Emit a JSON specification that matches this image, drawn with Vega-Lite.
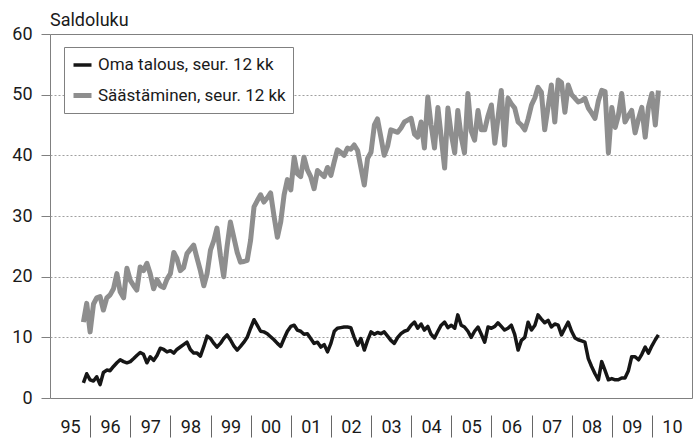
{
 "$schema": "https://vega.github.io/schema/vega-lite/v6.json",
 "width": 642,
 "height": 364,
 "autosize": {"type": "none"},
 "padding": {"left": 50, "top": 34, "right": 6, "bottom": 42},
 "background": "white",
 "config": {
  "font": "Roboto, Liberation Sans, sans-serif",
  "view": {"stroke": "#808080", "strokeWidth": 1}
 },
 "title": {"text": "Saldoluku", "anchor": "start", "frame": "group", "offset": -5, "fontSize": 18, "fontWeight": "normal", "color": "#1a1a1a"},
 "data": {"values": [
  {"t":"1995-11-01","Oma talous":2.5,"Säästäminen":12.5},
  {"t":"1995-12-01","Oma talous":4.0,"Säästäminen":15.6},
  {"t":"1996-01-01","Oma talous":3.0,"Säästäminen":10.9},
  {"t":"1996-02-01","Oma talous":2.8,"Säästäminen":15.5},
  {"t":"1996-03-01","Oma talous":3.5,"Säästäminen":16.5},
  {"t":"1996-04-01","Oma talous":2.2,"Säästäminen":16.7},
  {"t":"1996-05-01","Oma talous":4.2,"Säästäminen":14.5},
  {"t":"1996-06-01","Oma talous":4.6,"Säästäminen":16.5},
  {"t":"1996-07-01","Oma talous":4.5,"Säästäminen":17.0},
  {"t":"1996-08-01","Oma talous":5.2,"Säästäminen":18.0},
  {"t":"1996-09-01","Oma talous":5.8,"Säästäminen":20.5},
  {"t":"1996-10-01","Oma talous":6.3,"Säästäminen":17.5},
  {"t":"1996-11-01","Oma talous":6.0,"Säästäminen":16.5},
  {"t":"1996-12-01","Oma talous":5.8,"Säästäminen":21.4},
  {"t":"1997-01-01","Oma talous":6.0,"Säästäminen":19.4},
  {"t":"1997-02-01","Oma talous":6.5,"Säästäminen":18.5},
  {"t":"1997-03-01","Oma talous":7.0,"Säästäminen":17.8},
  {"t":"1997-04-01","Oma talous":7.5,"Säästäminen":21.6},
  {"t":"1997-05-01","Oma talous":7.2,"Säästäminen":21.0},
  {"t":"1997-06-01","Oma talous":5.8,"Säästäminen":22.2},
  {"t":"1997-07-01","Oma talous":6.8,"Säästäminen":20.5},
  {"t":"1997-08-01","Oma talous":6.2,"Säästäminen":18.0},
  {"t":"1997-09-01","Oma talous":7.0,"Säästäminen":19.5},
  {"t":"1997-10-01","Oma talous":8.2,"Säästäminen":18.5},
  {"t":"1997-11-01","Oma talous":8.0,"Säästäminen":18.2},
  {"t":"1997-12-01","Oma talous":7.6,"Säästäminen":19.6},
  {"t":"1998-01-01","Oma talous":7.8,"Säästäminen":20.5},
  {"t":"1998-02-01","Oma talous":7.4,"Säästäminen":24.0},
  {"t":"1998-03-01","Oma talous":8.0,"Säästäminen":23.0},
  {"t":"1998-04-01","Oma talous":8.4,"Säästäminen":21.0},
  {"t":"1998-05-01","Oma talous":8.8,"Säästäminen":21.5},
  {"t":"1998-06-01","Oma talous":9.2,"Säästäminen":23.8},
  {"t":"1998-07-01","Oma talous":8.0,"Säästäminen":24.5},
  {"t":"1998-08-01","Oma talous":7.4,"Säästäminen":25.2},
  {"t":"1998-09-01","Oma talous":7.4,"Säästäminen":23.0},
  {"t":"1998-10-01","Oma talous":6.9,"Säästäminen":21.0},
  {"t":"1998-11-01","Oma talous":8.5,"Säästäminen":18.5},
  {"t":"1998-12-01","Oma talous":10.2,"Säästäminen":20.5},
  {"t":"1999-01-01","Oma talous":9.8,"Säästäminen":24.4},
  {"t":"1999-02-01","Oma talous":9.0,"Säästäminen":26.0},
  {"t":"1999-03-01","Oma talous":8.4,"Säästäminen":28.0},
  {"t":"1999-04-01","Oma talous":9.0,"Säästäminen":23.5},
  {"t":"1999-05-01","Oma talous":9.8,"Säästäminen":20.0},
  {"t":"1999-06-01","Oma talous":10.4,"Säästäminen":25.0},
  {"t":"1999-07-01","Oma talous":9.6,"Säästäminen":29.0},
  {"t":"1999-08-01","Oma talous":8.6,"Säästäminen":26.5},
  {"t":"1999-09-01","Oma talous":7.9,"Säästäminen":24.0},
  {"t":"1999-10-01","Oma talous":8.5,"Säästäminen":22.4},
  {"t":"1999-11-01","Oma talous":9.2,"Säästäminen":22.5},
  {"t":"1999-12-01","Oma talous":10.0,"Säästäminen":22.7},
  {"t":"2000-01-01","Oma talous":11.5,"Säästäminen":26.0},
  {"t":"2000-02-01","Oma talous":12.9,"Säästäminen":31.5},
  {"t":"2000-03-01","Oma talous":12.0,"Säästäminen":32.5},
  {"t":"2000-04-01","Oma talous":11.0,"Säästäminen":33.5},
  {"t":"2000-05-01","Oma talous":10.9,"Säästäminen":32.3},
  {"t":"2000-06-01","Oma talous":10.6,"Säästäminen":33.0},
  {"t":"2000-07-01","Oma talous":10.1,"Säästäminen":33.8},
  {"t":"2000-08-01","Oma talous":9.6,"Säästäminen":30.0},
  {"t":"2000-09-01","Oma talous":9.0,"Säästäminen":26.5},
  {"t":"2000-10-01","Oma talous":8.5,"Säästäminen":29.0},
  {"t":"2000-11-01","Oma talous":9.8,"Säästäminen":33.5},
  {"t":"2000-12-01","Oma talous":11.0,"Säästäminen":36.0},
  {"t":"2001-01-01","Oma talous":11.8,"Säästäminen":34.3},
  {"t":"2001-02-01","Oma talous":12.0,"Säästäminen":39.7},
  {"t":"2001-03-01","Oma talous":11.2,"Säästäminen":37.0},
  {"t":"2001-04-01","Oma talous":11.0,"Säästäminen":36.5},
  {"t":"2001-05-01","Oma talous":10.5,"Säästäminen":39.7},
  {"t":"2001-06-01","Oma talous":10.6,"Säästäminen":37.6},
  {"t":"2001-07-01","Oma talous":9.8,"Säästäminen":36.5},
  {"t":"2001-08-01","Oma talous":9.0,"Säästäminen":34.5},
  {"t":"2001-09-01","Oma talous":9.2,"Säästäminen":37.5},
  {"t":"2001-10-01","Oma talous":8.4,"Säästäminen":37.0},
  {"t":"2001-11-01","Oma talous":8.8,"Säästäminen":36.5},
  {"t":"2001-12-01","Oma talous":7.6,"Säästäminen":38.0},
  {"t":"2002-01-01","Oma talous":9.0,"Säästäminen":36.7},
  {"t":"2002-02-01","Oma talous":11.0,"Säästäminen":39.0},
  {"t":"2002-03-01","Oma talous":11.5,"Säästäminen":40.9},
  {"t":"2002-04-01","Oma talous":11.6,"Säästäminen":40.5},
  {"t":"2002-05-01","Oma talous":11.7,"Säästäminen":40.0},
  {"t":"2002-06-01","Oma talous":11.7,"Säästäminen":41.2},
  {"t":"2002-07-01","Oma talous":11.6,"Säästäminen":41.0},
  {"t":"2002-08-01","Oma talous":10.0,"Säästäminen":41.7},
  {"t":"2002-09-01","Oma talous":8.7,"Säästäminen":40.8},
  {"t":"2002-10-01","Oma talous":9.8,"Säästäminen":38.0},
  {"t":"2002-11-01","Oma talous":7.9,"Säästäminen":35.1},
  {"t":"2002-12-01","Oma talous":9.5,"Säästäminen":39.5},
  {"t":"2003-01-01","Oma talous":10.9,"Säästäminen":40.5},
  {"t":"2003-02-01","Oma talous":10.5,"Säästäminen":45.0},
  {"t":"2003-03-01","Oma talous":10.8,"Säästäminen":46.0},
  {"t":"2003-04-01","Oma talous":10.6,"Säästäminen":43.0},
  {"t":"2003-05-01","Oma talous":10.9,"Säästäminen":40.0},
  {"t":"2003-06-01","Oma talous":10.2,"Säästäminen":41.5},
  {"t":"2003-07-01","Oma talous":9.5,"Säästäminen":44.2},
  {"t":"2003-08-01","Oma talous":9.0,"Säästäminen":44.0},
  {"t":"2003-09-01","Oma talous":10.0,"Säästäminen":43.8},
  {"t":"2003-10-01","Oma talous":10.6,"Säästäminen":44.5},
  {"t":"2003-11-01","Oma talous":11.0,"Säästäminen":45.5},
  {"t":"2003-12-01","Oma talous":11.2,"Säästäminen":45.8},
  {"t":"2004-01-01","Oma talous":12.0,"Säästäminen":46.1},
  {"t":"2004-02-01","Oma talous":12.5,"Säästäminen":43.5},
  {"t":"2004-03-01","Oma talous":11.5,"Säästäminen":43.0},
  {"t":"2004-04-01","Oma talous":12.2,"Säästäminen":45.5},
  {"t":"2004-05-01","Oma talous":11.2,"Säästäminen":41.2},
  {"t":"2004-06-01","Oma talous":11.8,"Säästäminen":49.6},
  {"t":"2004-07-01","Oma talous":10.5,"Säästäminen":45.0},
  {"t":"2004-08-01","Oma talous":9.9,"Säästäminen":41.2},
  {"t":"2004-09-01","Oma talous":11.0,"Säästäminen":47.9},
  {"t":"2004-10-01","Oma talous":12.0,"Säästäminen":43.0},
  {"t":"2004-11-01","Oma talous":12.5,"Säästäminen":37.9},
  {"t":"2004-12-01","Oma talous":11.6,"Säästäminen":47.8},
  {"t":"2005-01-01","Oma talous":12.0,"Säästäminen":43.5},
  {"t":"2005-02-01","Oma talous":11.5,"Säästäminen":40.4},
  {"t":"2005-03-01","Oma talous":13.7,"Säästäminen":47.4},
  {"t":"2005-04-01","Oma talous":12.0,"Säästäminen":43.0},
  {"t":"2005-05-01","Oma talous":11.7,"Säästäminen":40.4},
  {"t":"2005-06-01","Oma talous":11.0,"Säästäminen":50.2},
  {"t":"2005-07-01","Oma talous":10.0,"Säästäminen":44.0},
  {"t":"2005-08-01","Oma talous":11.0,"Säästäminen":42.5},
  {"t":"2005-09-01","Oma talous":11.7,"Säästäminen":47.4},
  {"t":"2005-10-01","Oma talous":10.5,"Säästäminen":44.2},
  {"t":"2005-11-01","Oma talous":9.2,"Säästäminen":44.2},
  {"t":"2005-12-01","Oma talous":11.7,"Säästäminen":46.5},
  {"t":"2006-01-01","Oma talous":11.5,"Säästäminen":48.3},
  {"t":"2006-02-01","Oma talous":11.8,"Säästäminen":42.0},
  {"t":"2006-03-01","Oma talous":12.4,"Säästäminen":46.0},
  {"t":"2006-04-01","Oma talous":11.8,"Säästäminen":50.7},
  {"t":"2006-05-01","Oma talous":11.2,"Säästäminen":41.7},
  {"t":"2006-06-01","Oma talous":11.5,"Säästäminen":49.4},
  {"t":"2006-07-01","Oma talous":12.0,"Säästäminen":48.5},
  {"t":"2006-08-01","Oma talous":10.5,"Säästäminen":47.8},
  {"t":"2006-09-01","Oma talous":7.9,"Säästäminen":45.5},
  {"t":"2006-10-01","Oma talous":9.5,"Säästäminen":45.0},
  {"t":"2006-11-01","Oma talous":10.0,"Säästäminen":44.2},
  {"t":"2006-12-01","Oma talous":12.5,"Säästäminen":46.0},
  {"t":"2007-01-01","Oma talous":11.2,"Säästäminen":48.3},
  {"t":"2007-02-01","Oma talous":12.0,"Säästäminen":49.5},
  {"t":"2007-03-01","Oma talous":13.7,"Säästäminen":51.2},
  {"t":"2007-04-01","Oma talous":13.0,"Säästäminen":50.4},
  {"t":"2007-05-01","Oma talous":12.4,"Säästäminen":44.2},
  {"t":"2007-06-01","Oma talous":12.8,"Säästäminen":48.0},
  {"t":"2007-07-01","Oma talous":11.7,"Säästäminen":51.6},
  {"t":"2007-08-01","Oma talous":12.2,"Säästäminen":45.5},
  {"t":"2007-09-01","Oma talous":12.0,"Säästäminen":52.4},
  {"t":"2007-10-01","Oma talous":10.4,"Säästäminen":52.0},
  {"t":"2007-11-01","Oma talous":11.5,"Säästäminen":47.1},
  {"t":"2007-12-01","Oma talous":12.5,"Säästäminen":51.6},
  {"t":"2008-01-01","Oma talous":11.0,"Säästäminen":50.0},
  {"t":"2008-02-01","Oma talous":9.9,"Säästäminen":49.4},
  {"t":"2008-03-01","Oma talous":9.6,"Säästäminen":48.8},
  {"t":"2008-04-01","Oma talous":9.4,"Säästäminen":49.0},
  {"t":"2008-05-01","Oma talous":9.2,"Säästäminen":49.4},
  {"t":"2008-06-01","Oma talous":6.5,"Säästäminen":47.8},
  {"t":"2008-07-01","Oma talous":5.2,"Säästäminen":47.0},
  {"t":"2008-08-01","Oma talous":4.0,"Säästäminen":46.1},
  {"t":"2008-09-01","Oma talous":3.0,"Säästäminen":49.0},
  {"t":"2008-10-01","Oma talous":6.0,"Säästäminen":50.7},
  {"t":"2008-11-01","Oma talous":4.5,"Säästäminen":50.5},
  {"t":"2008-12-01","Oma talous":3.0,"Säästäminen":40.4},
  {"t":"2009-01-01","Oma talous":3.2,"Säästäminen":47.9},
  {"t":"2009-02-01","Oma talous":3.0,"Säästäminen":44.6},
  {"t":"2009-03-01","Oma talous":3.0,"Säästäminen":46.5},
  {"t":"2009-04-01","Oma talous":3.3,"Säästäminen":50.2},
  {"t":"2009-05-01","Oma talous":3.3,"Säästäminen":45.5},
  {"t":"2009-06-01","Oma talous":4.5,"Säästäminen":46.5},
  {"t":"2009-07-01","Oma talous":6.8,"Säästäminen":47.4},
  {"t":"2009-08-01","Oma talous":6.8,"Säästäminen":43.7},
  {"t":"2009-09-01","Oma talous":6.3,"Säästäminen":46.0},
  {"t":"2009-10-01","Oma talous":7.2,"Säästäminen":47.9},
  {"t":"2009-11-01","Oma talous":8.4,"Säästäminen":43.0},
  {"t":"2009-12-01","Oma talous":7.4,"Säästäminen":48.0},
  {"t":"2010-01-01","Oma talous":8.6,"Säästäminen":50.2},
  {"t":"2010-02-01","Oma talous":9.6,"Säästäminen":45.0},
  {"t":"2010-03-01","Oma talous":10.4,"Säästäminen":50.7}
 ]},
 "transform": [{"fold": ["Oma talous", "Säästäminen"], "as": ["sarja", "arvo"]}],
 "mark": {"type": "line", "strokeJoin": "round", "strokeCap": "butt"},
 "encoding": {
  "x": {
   "field": "t", "type": "temporal",
   "scale": {"domain": [{"year": 1995, "month": 1, "date": 1}, {"year": 2011, "month": 1, "date": 1}]},
   "axis": {
    "title": null,
    "values": [
     {"year": 1995, "month": 1, "date": 1}, {"year": 1996, "month": 1, "date": 1}, {"year": 1997, "month": 1, "date": 1},
     {"year": 1998, "month": 1, "date": 1}, {"year": 1999, "month": 1, "date": 1}, {"year": 2000, "month": 1, "date": 1},
     {"year": 2001, "month": 1, "date": 1}, {"year": 2002, "month": 1, "date": 1}, {"year": 2003, "month": 1, "date": 1},
     {"year": 2004, "month": 1, "date": 1}, {"year": 2005, "month": 1, "date": 1}, {"year": 2006, "month": 1, "date": 1},
     {"year": 2007, "month": 1, "date": 1}, {"year": 2008, "month": 1, "date": 1}, {"year": 2009, "month": 1, "date": 1},
     {"year": 2010, "month": 1, "date": 1}
    ],
    "format": "%y",
    "domain": false,
    "grid": false,
    "ticks": true,
    "tickSize": 22,
    "tickWidth": 1,
    "tickColor": "#666666",
    "tickOpacity": {"condition": {"test": "year(datum.value) == 1995", "value": 0}, "value": 1},
    "offset": 17,
    "labelOffset": 20,
    "labelPadding": -19,
    "labelFontSize": 18,
    "labelColor": "#1a1a1a",
    "labelFlush": false,
    "labelOverlap": false,
    "labelBound": false
   }
  },
  "y": {
   "field": "arvo", "type": "quantitative",
   "scale": {"domain": [0, 60]},
   "axis": {
    "title": null,
    "values": [0, 10, 20, 30, 40, 50, 60],
    "domain": false,
    "grid": true,
    "gridColor": "#a0a0a0",
    "gridDash": [2, 2],
    "gridWidth": 1,
    "gridOpacity": {"condition": {"test": "datum.value == 0 || datum.value == 60", "value": 0}, "value": 1},
    "ticks": true,
    "tickSize": 9,
    "tickColor": "#808080",
    "labelPadding": 9,
    "labelFontSize": 18,
    "labelColor": "#1a1a1a"
   }
  },
  "color": {
   "field": "sarja", "type": "nominal",
   "scale": {"domain": ["Oma talous", "Säästäminen"], "range": ["#161616", "#8e8e8e"]},
   "legend": {
    "orient": "none", "legendX": 14, "legendY": 13,
    "title": null, "direction": "vertical",
    "padding": 7, "strokeColor": "#808080", "fillColor": "white",
    "symbolType": "stroke", "symbolSize": 324, "symbolStrokeWidth": 3.5,
    "labelFontSize": 17, "labelOffset": 4, "rowPadding": 11, "labelLimit": 0,
    "labelColor": "#1a1a1a",
    "labelExpr": "datum.label + ', seur. 12 kk'"
   }
  },
  "strokeWidth": {
   "field": "sarja", "type": "nominal",
   "scale": {"domain": ["Oma talous", "Säästäminen"], "range": [3.5, 5]},
   "legend": null
  }
 }
}
